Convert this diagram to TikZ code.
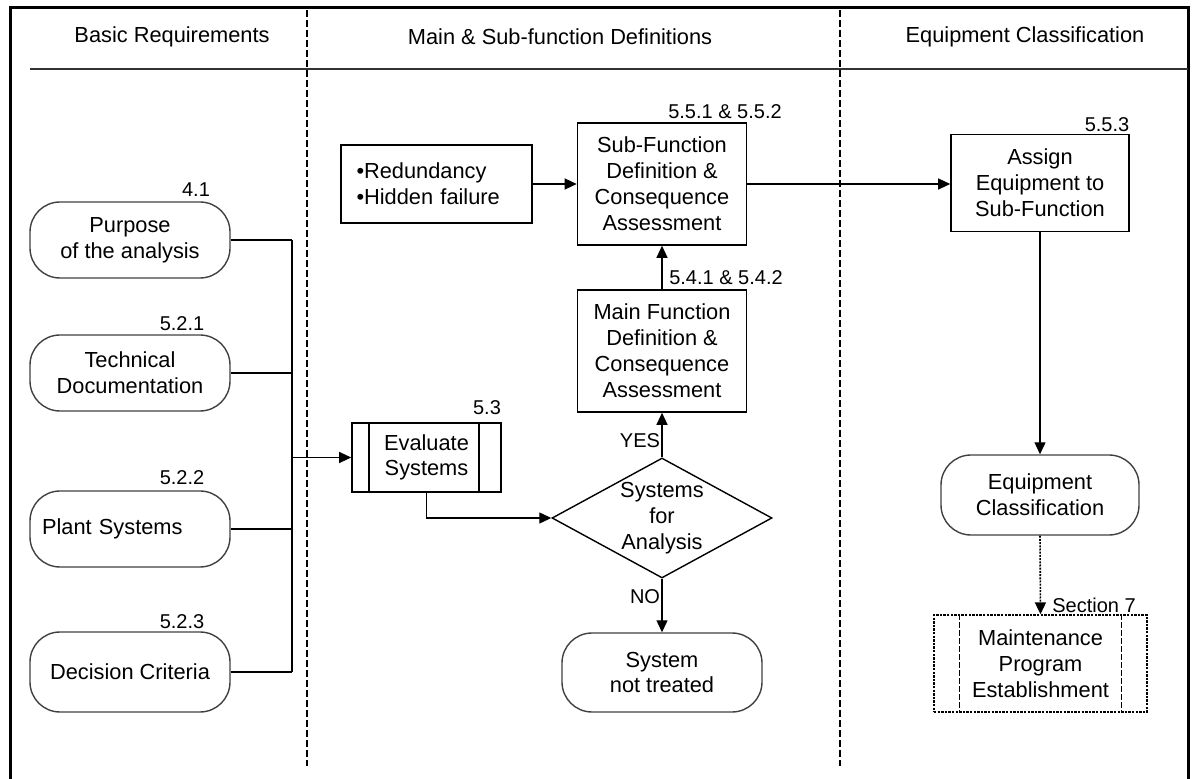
\documentclass[tikz,border=0pt]{standalone}
\usepackage{fontspec}
\setmainfont{Liberation Sans}
\usetikzlibrary{arrows.meta,shapes.geometric}

\begin{document}
\begin{tikzpicture}[x=0.5pt,y=-0.5pt,
  every node/.style={font=\fontsize{10.9}{12.8}\selectfont},
  box/.style={draw, line width=0.8pt, align=center, inner sep=2pt},
  stadium/.style={draw=black!75, line width=0.7pt, rounded corners=15pt, align=center,
                  minimum width=100pt, minimum height=38pt},
  ref/.style={font=\fontsize{10}{12}\selectfont, inner sep=0pt},
  conn/.style={line width=0.6pt},
  arr/.style={conn, -{Triangle[length=6pt,width=5.5pt]}},
  lane/.style={line width=0.6pt, dash pattern=on 3.5pt off 1.5pt},
]
\useasboundingbox (0,0) rectangle (1193,779);

% frame, header rule and swim-lane separators
\draw[line width=1.5pt] (10,779) -- (10,8) -- (1188,8) -- (1188,779);
\draw[line width=0.6pt, black!80] (30,69) -- (1188,69);
\draw[lane] (307,10) -- (307,766);
\draw[lane] (840,10) -- (840,766);

% lane headers
\node (h1) at (172,37) {Basic Requirements};
\node (h2) at (560,37) {Main \& Sub-function Definitions};
\node (h3) at (1025,37) {Equipment Classification};

% basic requirements
\node[stadium] (purpose) at (130,240) {Purpose\\of the analysis};
\node[stadium] (techdoc) at (130,373) {Technical\\Documentation};
\node[stadium, text width=88pt, align=left] (plant) at (130,529) {Plant Systems};
\node[stadium, minimum height=40pt] (decision) at (130,672) {Decision Criteria};

\node[ref] (r41)  at (196,190) {4.1};
\node[ref] (r521) at (182,324) {5.2.1};
\node[ref] (r522) at (182,478) {5.2.2};
\node[ref] (r523) at (182,622) {5.2.3};

% system evaluation
\node[box, minimum width=74.5pt, minimum height=34.5pt] (eval) at (426.5,457.5) {Evaluate\\Systems};
\draw[line width=0.8pt] ([xshift=9pt]eval.north west) -- ([xshift=9pt]eval.south west);
\draw[line width=0.8pt] ([xshift=-11.5pt]eval.north east) -- ([xshift=-11.5pt]eval.south east);
\node[ref] (r53) at (487,408) {5.3};

\node[diamond, draw, line width=0.7pt, aspect=1.83, minimum width=110pt, minimum height=60pt,
      inner sep=0pt, align=center, font=\fontsize{10.9}{13}\selectfont] (decide) at (662,518) {Systems\\for\\Analysis};

\node[stadium, minimum height=39.5pt] (nottreated) at (662,672.5) {System\\not treated};

% function definitions
\node[box, minimum width=84.5pt, minimum height=61pt, font=\fontsize{10.9}{13}\selectfont] (mainfn) at (662,351)
  {Main Function\\Definition \&\\Consequence\\Assessment};
\node[ref] (r54) at (726,278) {5.4.1 \& 5.4.2};

\node[box, minimum width=84.5pt, minimum height=61pt, font=\fontsize{10.9}{13}\selectfont] (subfn) at (662,184)
  {Sub-Function\\Definition \&\\Consequence\\Assessment};
\node[ref] (r55) at (725,112) {5.5.1 \& 5.5.2};

\node[box, minimum width=95.5pt, minimum height=39pt, align=left, text width=80pt, inner xsep=7.5pt]
  (redund) at (436.5,184) {•Redundancy\\•Hidden failure};

% equipment classification
\node[box, minimum width=89pt, minimum height=48.5pt, font=\fontsize{10.9}{13}\selectfont] (assign) at (1040,183)
  {Assign\\Equipment to\\Sub-Function};
\node[ref] (r553) at (1107,125) {5.5.3};

\node[stadium, minimum width=99pt, minimum height=40pt] (eqclass) at (1040,495) {Equipment\\Classification};

\node[draw, line width=0.7pt, dash pattern=on 1.2pt off 0.6pt, minimum width=106.5pt, minimum height=48.5pt,
      align=center, font=\fontsize{10.9}{13}\selectfont] (maint) at (1040.5,663.5)
  {Maintenance\\Program\\Establishment};
\draw[line width=0.6pt, dash pattern=on 3pt off 1pt] ([xshift=13pt]maint.north west) -- ([xshift=13pt]maint.south west);
\draw[line width=0.6pt, dash pattern=on 3pt off 1pt] ([xshift=-13pt]maint.north east) -- ([xshift=-13pt]maint.south east);
\node[ref] (sec7) at (1094,605) {Section 7};

% connectors
\coordinate (bus) at (292,457.5);
\foreach \n in {purpose,techdoc,plant,decision}
  \draw[conn] (\n.east) -- (\n.east -| bus);
\draw[conn] (purpose.east -| bus) -- (decision.east -| bus);
\draw[arr] (bus) -- (eval.west);
\draw[arr] (eval.south) |- (decide.west);
\draw[arr] (decide.north) -- (mainfn.south);
\draw[arr] (decide.south) -- (nottreated.north);
\draw[arr] (mainfn.north) -- (subfn.south);
\draw[arr] (redund.east) -- (subfn.west);
\draw[arr] (subfn.east) -- (subfn.east -| assign.west);
\draw[arr] (assign.south) -- (eqclass.north);
\draw[arr, line width=0.8pt, dash pattern=on 1pt off 0.6pt] (eqclass.south) -- (maint.north);

\node[ref] (yes) at (640,441) {YES};
\node[ref] (no) at (645,597) {NO};

\end{tikzpicture}
\end{document}
